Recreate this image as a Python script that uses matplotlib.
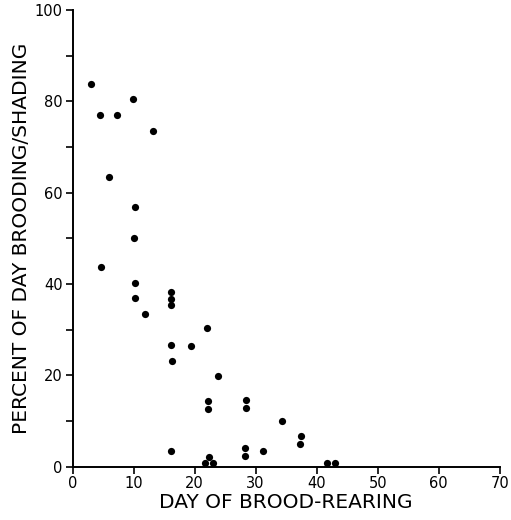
import matplotlib
matplotlib.use("Agg")
import matplotlib.pyplot as plt
from matplotlib.ticker import MultipleLocator

day = [3.1, 4.5, 7.3, 9.9, 13.1, 6.0, 10.2, 10.1,
       4.6, 10.2, 10.2, 11.8, 16.2, 16.2, 16.2, 22.0, 16.1, 19.4, 16.3, 23.8,
       22.2, 22.2, 28.4, 28.4, 16.2, 22.3, 21.7, 23.0, 28.2, 28.2,
       34.4, 37.4, 37.3, 31.2, 41.7, 43.0]
percent = [83.7, 77.0, 77.0, 80.4, 73.4, 63.4, 56.8, 50.1,
           43.7, 40.2, 37.0, 33.4, 38.3, 36.8, 35.3, 30.3, 26.7, 26.5, 23.2, 19.9,
           14.4, 12.7, 14.5, 12.9, 3.4, 2.1, 0.8, 0.8, 4.0, 2.3,
           10.1, 6.8, 4.9, 3.4, 0.9, 0.9]

x_ticks = [0, 10, 20, 30, 40, 50, 60, 70]
y_ticks = [0, 20, 40, 60, 80, 100]

fig = plt.figure(figsize=(5.11, 5.20), dpi=100)
ax = fig.add_axes([0.142, 0.1025, 0.836, 0.8785])
ax.scatter(day, percent, s=27, color="black", zorder=3, clip_on=False, linewidths=0)

ax.set_xlim(0, 70)
ax.set_ylim(0, 100)
ax.set_xticks(x_ticks)
ax.set_yticks(y_ticks)
ax.yaxis.set_minor_locator(MultipleLocator(10))
for s in ["top", "right"]:
    ax.spines[s].set_visible(False)
for s in ["left", "bottom"]:
    ax.spines[s].set_linewidth(1.4)
ax.tick_params(axis="both", which="major", direction="out", length=5, width=1.2,
               labelsize=10.5, pad=2)
ax.tick_params(axis="y", which="minor", direction="out", length=5, width=1.2)
ax.set_xlabel("DAY OF BROOD-REARING", fontsize=14.5, labelpad=1)
ax.set_ylabel("PERCENT OF DAY BROODING/SHADING", fontsize=14.5, labelpad=3)
fig.savefig("out.png", dpi=100)
